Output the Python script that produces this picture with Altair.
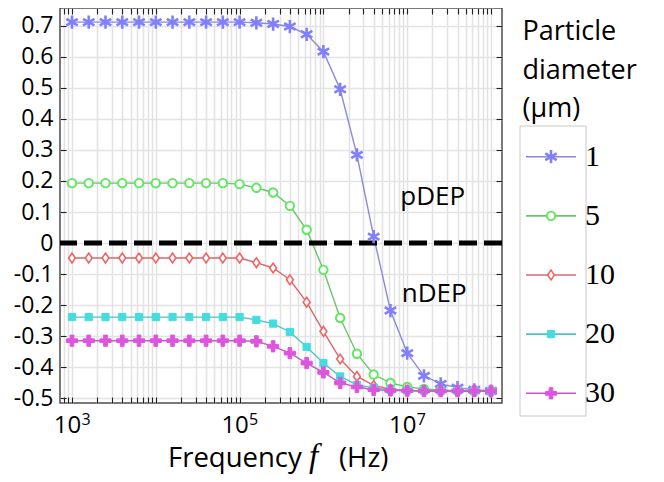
import altair as alt
import pandas as pd

# ---------------- data ----------------
series = ["1", "5", "10", "20", "30"]
freq_exponents = [3.0, 3.2, 3.4, 3.6, 3.8, 4.0, 4.2, 4.4, 4.6, 4.8, 5.0, 5.2, 5.4,
                  5.6, 5.8, 6.0, 6.2, 6.4, 6.6, 6.8, 7.0, 7.2, 7.4, 7.6, 7.8, 8.0]
kcm_1 = [0.711, 0.711, 0.711, 0.711, 0.711, 0.711, 0.711, 0.711, 0.711, 0.711, 0.711,
         0.709, 0.705, 0.697, 0.672, 0.616, 0.495, 0.284, 0.021, -0.217, -0.354,
         -0.427, -0.453, -0.465, -0.472, -0.476]
kcm_5 = [0.193, 0.193, 0.193, 0.193, 0.193, 0.193, 0.193, 0.193, 0.193, 0.193, 0.190,
         0.178, 0.163, 0.120, 0.043, -0.086, -0.241, -0.356, -0.423, -0.450, -0.463,
         -0.469, -0.473, -0.475, -0.476, -0.476]
kcm_10 = [-0.048, -0.048, -0.048, -0.048, -0.048, -0.048, -0.048, -0.048, -0.048, -0.048,
          -0.048, -0.063, -0.080, -0.118, -0.190, -0.284, -0.373, -0.429, -0.458, -0.470,
          -0.474, -0.475, -0.476, -0.476, -0.476, -0.476]
kcm_20 = [-0.238, -0.238, -0.238, -0.238, -0.238, -0.238, -0.238, -0.238, -0.238, -0.238,
          -0.238, -0.247, -0.259, -0.286, -0.334, -0.386, -0.429, -0.456, -0.466, -0.472,
          -0.474, -0.475, -0.476, -0.476, -0.476, -0.476]
kcm_30 = [-0.314, -0.314, -0.314, -0.314, -0.314, -0.314, -0.314, -0.314, -0.314, -0.314,
          -0.314, -0.316, -0.332, -0.354, -0.386, -0.416, -0.450, -0.463, -0.472, -0.474,
          -0.475, -0.476, -0.476, -0.476, -0.476, -0.476]
values_by_series = [kcm_1, kcm_5, kcm_10, kcm_20, kcm_30]

y_tick_values = [-0.5, -0.4, -0.3, -0.2, -0.1, 0.0, 0.1, 0.2, 0.3, 0.4, 0.5, 0.6, 0.7]
x_tick_values = [float(m * 10 ** k) for k in range(2, 9) for m in range(1, 10)
                 if 719 <= m * 10 ** k <= 1.35e8]
decade_labels = [1e3, 1e5, 1e7]
decade_exponents = ["3", "5", "7"]

annot_text = ["pDEP", "nDEP"]
annot_freq = [8.26e6, 8.6e6]
annot_value = [0.123, -0.188]

legend_title = ["Particle", "diameter", "(μm)"]

# ---------------- styles ----------------
line_colors = ["#8a8ad8", "#6cc46c", "#d46a6a", "#4cc4c4", "#c45cc4"]
marker_colors = ["#8080ff", "#5ee85e", "#f46262", "#44dddd", "#dd55dd"]
marker_fills = ["#8080ff", "white", "white", "#44dddd", "#dd55dd"]
asterisk = "M0,-1L0,1M-0.866,-0.5L0.866,0.5M-0.866,0.5L0.866,-0.5"
diamond = "M0,-1L0.7,0L0,1L-0.7,0Z"
plus = "M-0.33,-1H0.33V-0.33H1V0.33H0.33V1H-0.33V0.33H-1V-0.33H-0.33Z"
marker_shapes = [asterisk, "circle", diamond, "square", plus]
marker_sizes = [175, 72, 95, 52, 125]
marker_strokes = [2.6, 1.9, 1.6, 1.0, 1.0]

W, H = 442, 395

rows = []
for s, vals in zip(series, values_by_series):
    for e, v in zip(freq_exponents, vals):
        rows.append({"series": s, "freq": 10 ** e, "value": v})
df = pd.DataFrame(rows)
one_row = pd.DataFrame({"k": [0]})

xscale = alt.Scale(type="log", domain=[10 ** 2.857, 10 ** 8.131], nice=False)
yscale = alt.Scale(domain=[-0.5145, 0.7566], nice=False, zero=False)

color_enc = alt.Color("series:N", sort=series,
                      scale=alt.Scale(domain=series, range=line_colors), legend=None)
stroke_enc = alt.Stroke("series:N", sort=series,
                        scale=alt.Scale(domain=series, range=marker_colors), legend=None)
fill_enc = alt.Fill("series:N", sort=series,
                    scale=alt.Scale(domain=series, range=marker_fills), legend=None)
shape_enc = alt.Shape("series:N", sort=series,
                      scale=alt.Scale(domain=series, range=marker_shapes), legend=None)
size_enc = alt.Size("series:N", sort=series,
                    scale=alt.Scale(type="ordinal", domain=series, range=marker_sizes),
                    legend=None)
sw_enc = alt.StrokeWidth("series:N", sort=series,
                         scale=alt.Scale(type="ordinal", domain=series, range=marker_strokes),
                         legend=None)

y_label_expr = "datum.value == 0 ? '0' : (datum.value < 0 ? '-' : '') + format(abs(datum.value), '.1f')"
x_label_expr = "indexof([1000, 100000, 10000000], datum.value) >= 0 ? '10' : ''"

base = alt.Chart(df)

lines = base.mark_line(strokeWidth=1.4).encode(
    x=alt.X("freq:Q", scale=xscale, title=None,
            axis=alt.Axis(orient="bottom", values=x_tick_values, grid=True, ticks=False,
                          tickSize=0, domain=False, labelExpr=x_label_expr,
                          labelFont="Open Sans", labelFontSize=24, labelPadding=10,
                          labelOffset=-5, labelFlush=False, labelOverlap=False,
                          labelColor="black")),
    y=alt.Y("value:Q", scale=yscale, title=None,
            axis=alt.Axis(orient="left", values=y_tick_values, grid=True, ticks=False,
                          tickSize=0, domain=False, labelExpr=y_label_expr,
                          labelFont="Open Sans", labelFontSize=23, labelPadding=7,
                          labelFlush=False, labelOverlap=False, labelColor="black")),
    color=color_enc,
)

zero_line = alt.Chart(one_row).mark_rule(color="black", strokeWidth=5, strokeDash=[18, 7]).encode(
    y=alt.YDatum(0, axis=None)
)

points = base.mark_point(filled=False, opacity=1, fillOpacity=1).encode(
    x=alt.X("freq:Q", scale=xscale, title=None,
            axis=alt.Axis(orient="top", offset=-H, values=x_tick_values, grid=False,
                          labels=False, domain=False, tickSize=6)),
    y=alt.Y("value:Q", scale=yscale, title=None,
            axis=alt.Axis(orient="right", offset=-W, values=y_tick_values, grid=False,
                          labels=False, domain=False, tickSize=6)),
    shape=shape_enc, stroke=stroke_enc, fill=fill_enc, size=size_enc, strokeWidth=sw_enc,
)

annot_df = pd.DataFrame({"label": annot_text, "freq": annot_freq, "value": annot_value})
annots = alt.Chart(annot_df).mark_text(
    font="Open Sans", fontSize=26, align="left", baseline="alphabetic", color="black"
).encode(
    x=alt.X("freq:Q", scale=xscale, title=None,
            axis=alt.Axis(orient="bottom", offset=-H, values=x_tick_values, grid=False,
                          labels=False, domain=False, tickSize=6)),
    y=alt.Y("value:Q", scale=yscale, title=None,
            axis=alt.Axis(orient="left", offset=-W, values=y_tick_values, grid=False,
                          labels=False, domain=False, tickSize=6)),
    text="label:N",
)

sup_df = pd.DataFrame({"freq": decade_labels, "exp": decade_exponents})
sups = alt.Chart(sup_df).mark_text(
    font="Open Sans", fontSize=16, align="left", baseline="alphabetic", dx=9.5, color="black"
).encode(
    x=alt.X("freq:Q", scale=xscale, axis=None),
    y=alt.value(417),
    text="exp:N",
)

main = alt.layer(lines, zero_line, points, annots, sups)

# ---------------- legend (drawn as marks) ----------------
leg_df = pd.DataFrame({"series": series})
leg_y = alt.Y("series:N", sort=series, axis=None,
              scale=alt.Scale(type="point", domain=series, range=[148.7, 385.3], padding=0))
leg_base = alt.Chart(leg_df)
leg_box = alt.Chart(one_row).mark_rect(fill="white", stroke="#c8c8c8", strokeWidth=1).encode(
    x=alt.value(460), x2=alt.value(526), y=alt.value(118), y2=alt.value(408)
)
leg_lines = leg_base.mark_rule(strokeWidth=1.6).encode(
    x=alt.value(466), x2=alt.value(516), y=leg_y, color=color_enc
)
leg_points = leg_base.mark_point(filled=False, opacity=1, fillOpacity=1).encode(
    x=alt.value(491), y=leg_y, shape=shape_enc, stroke=stroke_enc, fill=fill_enc,
    size=size_enc, strokeWidth=sw_enc,
)
leg_labels = leg_base.mark_text(
    font="Liberation Serif", fontSize=30, align="left", baseline="middle", color="black"
).encode(x=alt.value(525), y=leg_y, text="series:N")
leg_title = alt.Chart(one_row).mark_text(
    text=legend_title, font="Open Sans", fontSize=27, lineHeight=38.5,
    align="left", baseline="alphabetic", color="black"
).encode(x=alt.value(462.5), y=alt.value(32))

# x-axis title with italic f
t1 = alt.Chart(one_row).mark_text(text="Frequency", font="Open Sans", fontSize=27.5,
                                  align="left", baseline="alphabetic", color="black"
                                  ).encode(x=alt.value(108), y=alt.value(459))
t2 = alt.Chart(one_row).mark_text(text="f", font="Liberation Serif", fontSize=33,
                                  fontStyle="italic", align="left", baseline="alphabetic",
                                  color="black").encode(x=alt.value(249), y=alt.value(459))
t3 = alt.Chart(one_row).mark_text(text="(Hz)", font="Open Sans", fontSize=27.5,
                                  align="left", baseline="alphabetic", color="black"
                                  ).encode(x=alt.value(279), y=alt.value(459))

legend_layer = alt.layer(leg_box, leg_lines, leg_points, leg_labels, leg_title, t1, t2, t3)

chart = alt.layer(main, legend_layer).resolve_scale(
    x="independent", y="independent"
).properties(
    width=W, height=H,
    autosize=alt.AutoSizeParams(type="none"),
    padding={"left": 52, "top": 0, "right": 154, "bottom": 71},
).configure_view(
    stroke="#4d4d4d", strokeWidth=1.5
).configure_axis(
    gridColor="#e3e3e3", gridWidth=1.6, tickColor="#222222", tickWidth=1.1
)

chart.save("out.html", embed_options={"renderer": "svg", "actions": False})
